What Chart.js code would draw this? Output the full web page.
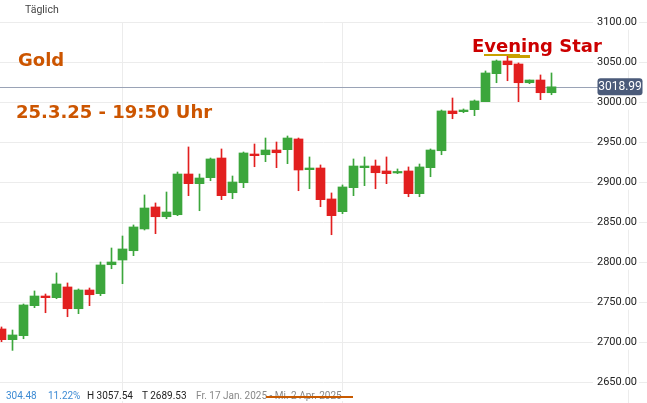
<!DOCTYPE html>
<html lang="de">
<head>
<meta charset="utf-8">
<title>Gold – Evening Star</title>
<script src="https://cdn.jsdelivr.net/npm/chart.js@4/dist/chart.umd.min.js"></script>
<style>
  html, body { margin: 0; padding: 0; background: #fff; }
  #wrap { position: relative; width: 647px; height: 403px; overflow: hidden; }
  #wrap canvas { position: absolute; left: 0; top: 0; }
  .note { position: absolute; white-space: nowrap; line-height: 1; }
  .big { font-family: "DejaVu Sans", sans-serif; font-weight: bold; font-size: 18px; }
  .small { font-family: Roboto, sans-serif; font-size: 10px; background: #fff; padding: 0 1px; }
  .mark { position: absolute; }
</style>
</head>
<body>
<div id="wrap">
  <canvas id="goldChart" width="647" height="403"></canvas>

  <div class="note" style="left:25px; top:4.5px; font-family:Roboto, sans-serif; font-size:10.5px; color:#444;">Täglich</div>
  <div class="note big" style="left:18px; top:50.5px; color:#cc5500;">Gold</div>
  <div class="note big" style="left:16px; top:103px; color:#cc5500;">25.3.25 - 19:50 Uhr</div>
  <div class="note big" style="left:472px; top:36.5px; color:#cc0000;">Evening Star</div>
  <div class="mark" style="left:484px; top:53.5px; width:36px; height:2.5px; background:#c8a000;"></div>
  <div class="mark" style="left:508px; top:55px; width:22px; height:2.5px; background:#c8a000;"></div>

  <div class="note small" style="left:5px; top:391px; color:#3d8bd4;">304.48</div>
  <div class="note small" style="left:47px; top:391px; color:#3d8bd4;">11.22%</div>
  <div class="note small" style="left:86px; top:391px; color:#222;">H 3057.54</div>
  <div class="note small" style="left:141px; top:391px; color:#222;">T 2689.53</div>
  <div class="note small" style="left:195px; top:391px; color:#888;">Fr. 17 Jan. 2025 - Mi. 2 Apr. 2025</div>
  <div class="mark" style="left:266px; top:396px; width:87px; height:2px; background:#c85a00;"></div>
</div>

<script>
// daily candles, 17 Jan 2025 onwards (index = trading day)
const opens  = [2716.3, 2702.9, 2707.9, 2745.4, 2757.5, 2755.4, 2768.8, 2741.6, 2765.0, 2760.4,
                2796.6, 2802.5, 2814.1, 2841.3, 2868.8, 2856.6, 2859.1, 2910.0, 2897.9, 2905.4,
                2930.0, 2886.6, 2899.1, 2935.0, 2934.1, 2940.0, 2940.4, 2953.8, 2915.4, 2917.5,
                2878.8, 2862.9, 2892.9, 2917.9, 2920.0, 2913.8, 2911.3, 2913.8, 2885.4, 2917.9,
                2939.1, 2988.8, 2987.9, 2990.4, 3000.4, 3035.4, 3051.3, 3047.5, 3024.1, 3027.5,
                3011.6];
const highs  = [2718.8, 2715.0, 2747.5, 2763.8, 2760.0, 2786.3, 2773.8, 2766.3, 2767.5, 2800.0,
                2817.5, 2832.5, 2846.3, 2883.8, 2873.8, 2887.5, 2912.5, 2943.8, 2910.0, 2930.0,
                2941.3, 2907.5, 2937.5, 2947.5, 2955.0, 2950.0, 2957.5, 2955.0, 2931.3, 2921.3,
                2886.3, 2896.3, 2928.8, 2931.3, 2927.5, 2931.3, 2916.3, 2918.8, 2922.5, 2941.3,
                2990.0, 3005.0, 2991.3, 3002.5, 3038.8, 3052.5, 3057.54, 3048.8, 3027.5, 3033.8,
                3036.3];
const lows   = [2700.4, 2689.53, 2704.1, 2742.9, 2736.6, 2754.1, 2731.6, 2735.4, 2745.4, 2757.9,
                2791.6, 2772.9, 2807.9, 2840.0, 2835.4, 2854.1, 2857.9, 2882.9, 2864.1, 2901.6,
                2877.9, 2879.1, 2892.9, 2919.1, 2925.4, 2917.9, 2922.9, 2889.1, 2891.6, 2869.1,
                2834.1, 2860.4, 2882.9, 2895.4, 2891.6, 2897.9, 2910.4, 2881.6, 2881.6, 2906.6,
                2934.1, 2979.1, 2986.6, 2982.9, 3000.4, 3024.1, 3026.6, 3000.4, 3022.9, 3002.9,
                3009.1];
const closes = [2702.9, 2708.8, 2746.3, 2757.5, 2755.4, 2772.5, 2741.6, 2765.0, 2759.1, 2796.3,
                2800.0, 2816.3, 2843.8, 2867.5, 2856.6, 2862.5, 2910.0, 2897.9, 2905.0, 2928.8,
                2882.9, 2900.0, 2936.3, 2932.9, 2940.0, 2936.6, 2955.0, 2915.0, 2917.5, 2877.9,
                2857.9, 2893.8, 2920.0, 2920.0, 2911.6, 2910.4, 2912.5, 2885.4, 2918.8, 2940.0,
                2988.8, 2985.4, 2990.0, 3001.3, 3036.3, 3051.3, 3046.6, 3024.1, 3027.5, 3011.6,
                3018.99];

const monthLines = [11, 31, 57];   // Feb, Mar, Apr
const yTicks = [2650, 2700, 2750, 2800, 2850, 2900, 2950, 3000, 3050, 3100];
const lastPrice = closes[closes.length - 1];

const UP = '#3ca63c';
const DOWN = '#e21f1f';
const colors = opens.map((o, i) => closes[i] >= o ? UP : DOWN);

const priceLine = {
    id: 'priceLine',
    beforeDatasetsDraw(chart) {
        const ctx = chart.ctx;
        const y = Math.round(chart.scales.y.getPixelForValue(lastPrice)) + 0.5;
        ctx.save();
        ctx.strokeStyle = '#9aa3b6';
        ctx.lineWidth = 1;
        ctx.beginPath();
        ctx.moveTo(0, y);
        ctx.lineTo(598, y);
        ctx.stroke();
        ctx.restore();
    },
    afterDatasetsDraw(chart) {
        const ctx = chart.ctx;
        const y = chart.scales.y.getPixelForValue(lastPrice);
        ctx.save();
        ctx.fillStyle = '#4b5b7a';
        ctx.beginPath();
        ctx.roundRect(597.5, y - 8.5, 45, 17, 3);
        ctx.fill();
        ctx.fillStyle = '#fff';
        ctx.font = '12px Roboto, sans-serif';
        ctx.textAlign = 'center';
        ctx.textBaseline = 'middle';
        ctx.fillText(lastPrice.toFixed(2), 620, y + 0.5);
        ctx.restore();
    }
};

new Chart(document.getElementById('goldChart'), {
    type: 'bar',
    data: {
        datasets: [{
            label: 'Körper',
            data: opens.map((o, i) => ({ x: i, y: [o, closes[i]] })),
            backgroundColor: colors,
            barThickness: 9,
            minBarLength: 1.5,
            borderWidth: 0,
            grouped: false
        }, {
            label: 'Docht',
            data: lows.map((l, i) => ({ x: i, y: [l, highs[i]] })),
            backgroundColor: colors,
            barThickness: 1,
            borderWidth: 0,
            grouped: false
        }]
    },
    options: {
        responsive: false,
        animation: false,
        layout: { padding: { top: 22, left: 0, right: 0, bottom: 0 } },
        plugins: { legend: { display: false }, tooltip: { enabled: false } },
        scales: {
            x: {
                type: 'linear',
                min: -1.5 / 11,
                max: (647 - 1.5) / 11,
                offset: false,
                afterBuildTicks: (scale) => { scale.ticks = monthLines.map(v => ({ value: v })); },
                grid: { color: '#ececec', drawTicks: false, offset: false },
                border: { display: false },
                ticks: { display: false }
            },
            y: {
                position: 'right',
                min: 3100 - 381 * 1.25,
                max: 3100,
                beginAtZero: false,
                afterBuildTicks: (scale) => { scale.ticks = yTicks.map(v => ({ value: v })); },
                afterFit: (scale) => { scale.width = 0; },
                grid: { color: '#ececec', drawTicks: false },
                border: { display: false },
                ticks: {
                    mirror: true,
                    padding: -10,
                    color: '#222',
                    font: { family: 'Roboto', size: 11 },
                    showLabelBackdrop: true,
                    backdropColor: '#fff',
                    backdropPadding: { left: 4, right: 2, top: 1, bottom: 1 },
                    callback: (v) => Number(v).toFixed(2)
                }
            }
        }
    },
    plugins: [priceLine]
});
</script>
</body>
</html>
